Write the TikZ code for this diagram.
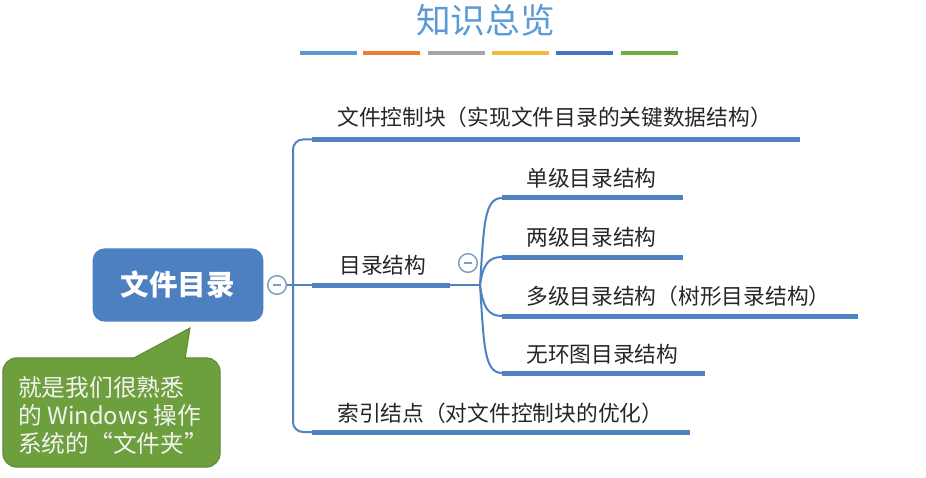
\documentclass[tikz,border=0pt]{standalone}
\usepackage{fontspec}
\setmainfont{Noto Sans CJK SC}

\definecolor{linkblue}{HTML}{4F82C0}
\definecolor{rootblue}{HTML}{4D80C0}
\definecolor{titleblue}{HTML}{5B9BD5}
\definecolor{tipgreen}{HTML}{6E9F3D}
\definecolor{tipedge}{HTML}{5C8A32}
\definecolor{foldedge}{HTML}{7E9CC4}
\definecolor{barblue}{HTML}{5B9BD5}
\definecolor{barorange}{HTML}{ED7D31}
\definecolor{bargray}{HTML}{A5A5A5}
\definecolor{bargold}{HTML}{F5B83E}
\definecolor{bardark}{HTML}{4472C4}
\definecolor{bargreen}{HTML}{70AD47}

\tikzset{
  topic/.style={anchor=west, inner sep=0pt, text=black!85, font=\fontsize{16.3}{19}\selectfont},
  stem/.style={draw=linkblue, line width=1.5pt},
  bar/.style={draw=linkblue, line width=3.75pt},
  fold/.style={circle, draw=foldedge, fill=white, line width=1.1pt, minimum size=14pt, inner sep=0pt},
  rootbox/.style={rounded corners=9pt, fill=rootblue, text=white, minimum width=128pt, minimum height=55pt, font=\fontsize{21.4}{24}\selectfont\bfseries},
  tipbox/.style={rounded corners=10.5pt, fill=tipgreen, draw=tipedge, line width=0.75pt, minimum width=163pt, minimum height=82pt},
  tiptext/.style={anchor=west, inner sep=0pt, align=left, text=white!95!black, font=\fontsize{17.8}{21}\selectfont},
  ribbon/.style={line width=3.5pt},
}

\begin{document}
\begin{tikzpicture}[x=0.75pt,y=0.75pt,yscale=-1,xscale=1]
    \useasboundingbox (0,0) rectangle (926,478); %same size as the slide

    % Text Node
    \node[font=\fontsize{26}{30}\selectfont, text=titleblue] (title) at (485.5,20) {知识总览};
    %Colour ribbons under the title
    \foreach \xa/\col in {300/barblue, 363/barorange, 428/bargray, 492/bargold, 556/bardark, 621/bargreen}
      \draw[ribbon, draw=\col] (\xa,53) -- ++(57,0);

    % Root
    \node[rootbox] (root) at (178,285) {文件目录};
    \node[fold] (rootfold) at (277,285) {};
    \draw[draw=foldedge, line width=1.1pt] ([xshift=-3pt]rootfold.center) -- ([xshift=3pt]rootfold.center);

    %Ends of the underlines
    \coordinate (trunk) at (293,285);
    \coordinate (fcb_l) at (312,139.5);
    \coordinate (fcb_r) at (800,139.5);
    \coordinate (dir_l) at (312,285);
    \coordinate (dir_r) at (450,285);
    \coordinate (idx_l) at (312,432);
    \coordinate (idx_r) at (690,432);
    \coordinate (fork) at (480,285);
    \coordinate (one_l) at (502,198);
    \coordinate (one_r) at (683,198);
    \coordinate (two_l) at (502,257);
    \coordinate (two_r) at (683,257);
    \coordinate (multi_l) at (502,316);
    \coordinate (multi_r) at (858,316);
    \coordinate (acyc_l) at (502,373);
    \coordinate (acyc_r) at (705,373);

    %Straight Lines
    \draw[stem] (rootfold) -- (dir_l);
    \draw[stem, rounded corners=7.5pt] (fcb_l) -- (trunk |- fcb_l) -- (trunk |- idx_l) -- (idx_l);
    \draw[bar] (fcb_l) -- (fcb_r);
    \draw[bar] (dir_l) -- (dir_r);
    \draw[bar] (idx_l) -- (idx_r);

    % Text Node
    \node[topic] (fcb) at (337,117) {文件控制块（实现文件目录的关键数据结构）};
    % Text Node
    \node[topic] (dir) at (339,265) {目录结构};
    % Text Node
    \node[topic] (idx) at (337,413) {索引结点（对文件控制块的优化）};

    %Sub branches of dir
    \node[fold] (dirfold) at (468,263) {};
    \draw[draw=foldedge, line width=1.1pt] ([xshift=-3pt]dirfold.center) -- ([xshift=3pt]dirfold.center);
    \draw[stem] (dir_r) -- (fork);
    \draw[stem] (fork) .. controls +(4,-60) and +(-18,0) .. (one_l);
    \draw[stem] (fork) .. controls +(3,-20) and +(-14,0) .. (two_l);
    \draw[stem] (fork) .. controls +(3,22) and +(-14,0) .. (multi_l);
    \draw[stem] (fork) .. controls +(4,60) and +(-18,0) .. (acyc_l);
    \draw[bar] (one_l) -- (one_r);
    \draw[bar] (two_l) -- (two_r);
    \draw[bar] (multi_l) -- (multi_r);
    \draw[bar] (acyc_l) -- (acyc_r);

    % Text Node
    \node[topic] (one) at (526,178) {单级目录结构};
    % Text Node
    \node[topic] (two) at (526,237) {两级目录结构};
    % Text Node
    \node[topic] (multi) at (526,296) {多级目录结构（树形目录结构）};
    % Text Node
    \node[topic] (acyc) at (526,354) {无环图目录结构};

    %Callout
    \node[tipbox] (tip) at (111.5,412.5) {};
    \coordinate (tip_a) at (131,359.5);
    \coordinate (tip_b) at (185,359.5);
    \coordinate (tip_c) at (190,328);
    \fill[tipgreen] (tip_a) -- (tip_c) -- (tip_b) -- cycle;
    \draw[draw=tipedge, line width=0.75pt] (tip_a) -- (tip_c) -- (tip_b);
    % Text Node
    \node[tiptext] (tipnote) at (18,415) {就是我们很熟悉\\的 Windows 操作\\系统的“文件夹”};

\end{tikzpicture}
\end{document}
